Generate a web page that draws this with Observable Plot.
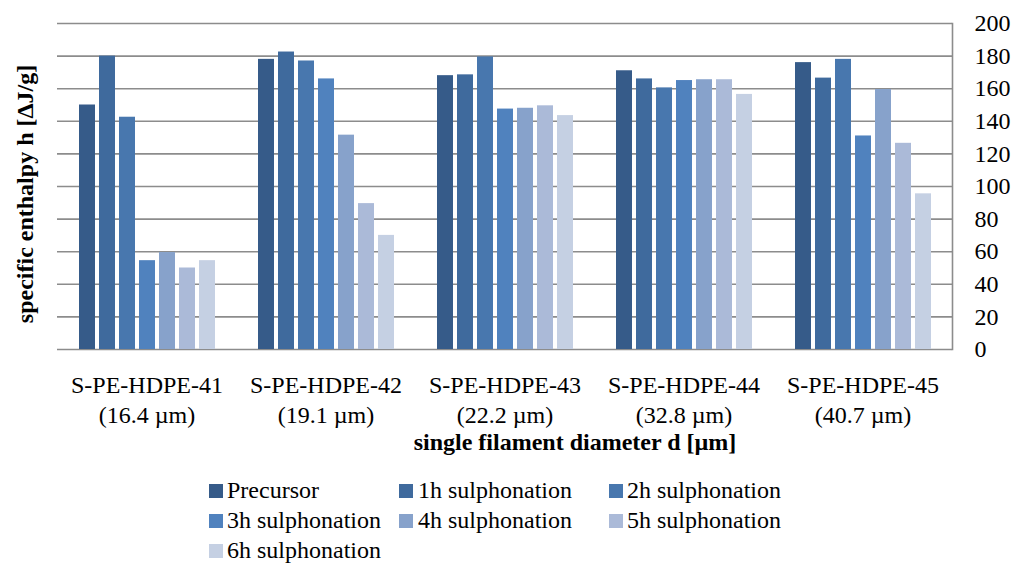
<!DOCTYPE html>
<html>
<head>
<meta charset="utf-8">
<script src="https://cdn.jsdelivr.net/npm/d3@7"></script>
<script src="https://cdn.jsdelivr.net/npm/@observablehq/plot@0.6"></script>
<style>
  html, body { margin: 0; padding: 0; background: #fff; }
  #wrap { position: relative; width: 1024px; height: 575px; overflow: hidden; font-family: "Liberation Serif", "Times New Roman", serif; }
  #legend { position: relative; width: 1024px; height: 110px; font-size: 24px; color: #000; }
  .sw { position: absolute; width: 14px; height: 14px; }
  .lt { position: absolute; line-height: 24px; white-space: nowrap; }
</style>
</head>
<body>
<div id="wrap">
  <div id="chart"></div>
  <div id="legend"></div>
</div>
<script>
// ---- data ----
const groups = ["S-PE-HDPE-41", "S-PE-HDPE-42", "S-PE-HDPE-43", "S-PE-HDPE-44", "S-PE-HDPE-45"];
const diameters = ["(16.4 µm)", "(19.1 µm)", "(22.2 µm)", "(32.8 µm)", "(40.7 µm)"];
const series = ["Precursor", "1h sulphonation", "2h sulphonation", "3h sulphonation", "4h sulphonation", "5h sulphonation", "6h sulphonation"];
const precursor = [150, 178, 168, 171, 176];
const sulph1h = [180, 182.5, 168.5, 166, 166.5];
const sulph2h = [142.5, 177, 179.5, 160.5, 178];
const sulph3h = [54.5, 166, 147.5, 165, 131];
const sulph4h = [59.5, 131.5, 148, 165.5, 159.5];
const sulph5h = [50, 89.5, 149.5, 165.5, 126.5];
const sulph6h = [54.5, 70, 143.5, 156.5, 95.5];
const yTicks = [0, 20, 40, 60, 80, 100, 120, 140, 160, 180, 200];
const colors = ["#365B89", "#3F6A9D", "#4877AE", "#5082BE", "#87A2CB", "#ABBAD8", "#C5D0E3"];

const seriesValues = [precursor, sulph1h, sulph2h, sulph3h, sulph4h, sulph5h, sulph6h];
const data = groups.flatMap((g, i) => series.map((s, j) => ({group: g, series: s, value: seriesValues[j][i]})));

const gridColor = "#8c8c8c";
const font = '"Liberation Serif", "Times New Roman", serif';

const chart = Plot.plot({
  width: 1024,
  height: 465,
  marginLeft: 55,
  marginRight: 70,
  marginTop: 23,
  marginBottom: 116,
  style: {fontFamily: font, fontSize: "24px", color: "#000", background: "#fff"},
  fx: {domain: groups, padding: 0, label: null},
  x: {domain: series, paddingInner: 0.2, paddingOuter: 0.88, axis: null},
  y: {domain: [0, 200], label: null},
  color: {domain: series, range: colors},
  marks: [
    Plot.gridY(yTicks, {stroke: gridColor, strokeOpacity: 1, strokeWidth: 1.6}),
    Plot.barY(data, {fx: "group", x: "series", y: "value", fill: "series"}),
    Plot.frame({anchor: "right", facet: "super", stroke: gridColor, strokeWidth: 1.6}),
    Plot.axisY(yTicks, {anchor: "right", tickSize: 0, tickPadding: 22, label: null, fontSize: 24}),
    Plot.axisFx({anchor: "bottom", tickSize: 0, tickPadding: 22, label: null, fontSize: 24, lineHeight: 1.25,
      tickFormat: d => d + "\n" + diameters[groups.indexOf(d)]})
  ]
});
document.getElementById("chart").appendChild(chart);

// axis titles
const svg = d3.select(chart);
svg.append("text")
  .attr("x", 575).attr("y", 450)
  .attr("text-anchor", "middle")
  .attr("font-family", font).attr("font-size", 24).attr("font-weight", "bold").attr("fill", "#000")
  .text("single filament diameter d [µm]");
svg.append("text")
  .attr("transform", "translate(33,194) rotate(-90)")
  .attr("text-anchor", "middle")
  .attr("font-family", font).attr("font-size", 24).attr("font-weight", "bold").attr("fill", "#000")
  .text("specific enthalpy h [ΔJ/g]");

// legend (3 columns, row-major)
const legendCols = [{sq: 209, tx: 227}, {sq: 399, tx: 418}, {sq: 609, tx: 627}];
const legendRowBaselines = [33, 63, 93];
const legend = document.getElementById("legend");
series.forEach((s, i) => {
  const c = legendCols[i % 3], b = legendRowBaselines[Math.floor(i / 3)];
  const sw = document.createElement("div");
  sw.className = "sw";
  sw.style.left = c.sq + "px";
  sw.style.top = (b - 14) + "px";
  sw.style.background = colors[i];
  legend.appendChild(sw);
  const t = document.createElement("div");
  t.className = "lt";
  t.style.left = c.tx + "px";
  t.style.top = (b - 20) + "px";
  t.textContent = s;
  legend.appendChild(t);
});
</script>
</body>
</html>
